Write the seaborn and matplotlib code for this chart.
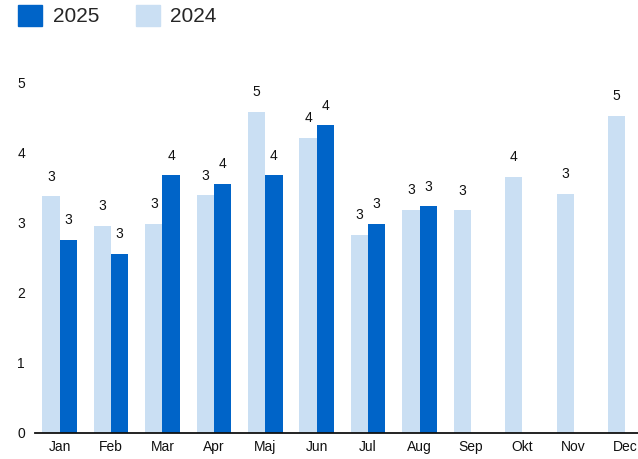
import matplotlib.pyplot as plt
import matplotlib.patches as mpatches
import numpy as np
import pandas as pd
import seaborn as sns

# Monthly values
months = ['Jan', 'Feb', 'Mar', 'Apr', 'Maj', 'Jun', 'Jul', 'Aug', 'Sep', 'Okt', 'Nov', 'Dec']
values_2024 = [3.38, 2.96, 2.99, 3.40, 4.59, 4.22, 2.83, 3.19, 3.18, 3.66, 3.42, 4.53]
values_2025 = [2.76, 2.56, 3.68, 3.56, 3.68, 4.40, 2.99, 3.24, np.nan, np.nan, np.nan, np.nan]
years = ['2024', '2025']
colors = {'2024': '#CADFF3', '2025': '#0064C8'}

df = pd.DataFrame({
    'month': months * 2,
    'value': values_2024 + values_2025,
    'year': ['2024'] * len(months) + ['2025'] * len(months),
})

sns.set_theme(style='white')
plt.rcParams['font.family'] = ['Liberation Sans', 'DejaVu Sans']

fig = plt.figure(figsize=(6.38, 4.59), dpi=100)
ax = fig.add_axes([34.6 / 638, 26 / 459, 1 - 34.6 / 638, (433 - 62) / 459])

sns.barplot(data=df, x='month', y='value', hue='year', hue_order=years,
            order=months, palette=colors, width=0.67, ax=ax,
            legend=False, errorbar=None, saturation=1, linewidth=0)

# Rounded value labels above each bar
for container in ax.containers:
    labels = ['' if np.isnan(v) else f'{v:.0f}' for v in container.datavalues]
    ax.bar_label(container, labels=labels, padding=9, fontsize=10, color='#111111')

ax.set_xlim(-0.488, 11.25)
ax.set_ylim(0, 5.3)
ax.set_yticks([0, 1, 2, 3, 4, 5])
ax.set_xlabel('')
ax.set_ylabel('')
ax.tick_params(axis='y', length=0, pad=7, labelsize=10, labelcolor='#111111')
ax.tick_params(axis='x', length=0, pad=5, labelsize=10, labelcolor='#111111')

for side in ['top', 'right', 'left']:
    ax.spines[side].set_visible(False)
ax.spines['bottom'].set_color('#111111')
ax.spines['bottom'].set_linewidth(1.3)

# Legend: 2025 first, then 2024
handles = [mpatches.Patch(color=colors['2025'], label='2025'),
           mpatches.Patch(color=colors['2024'], label='2024')]
fig.legend(handles=handles, loc='upper left', bbox_to_anchor=(18 / 638, 1 - 5 / 459),
           ncol=2, frameon=False, fontsize=15, handlelength=1.15, handleheight=1.15,
           handletextpad=0.52, columnspacing=1.75, borderpad=0, borderaxespad=0)

fig.savefig('out.png', dpi=100)
